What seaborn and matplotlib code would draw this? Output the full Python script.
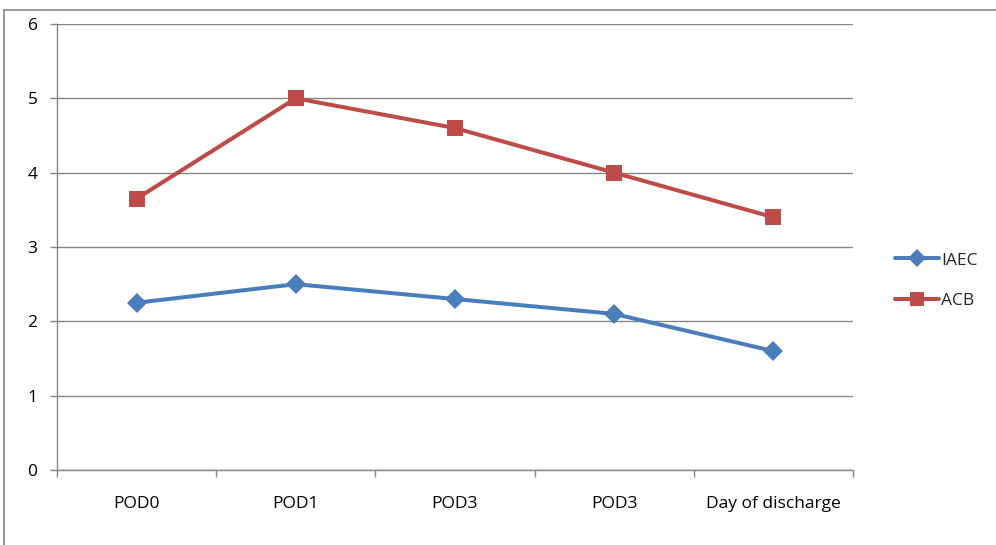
import matplotlib
matplotlib.use("Agg")
import matplotlib.pyplot as plt
import seaborn as sns
import pandas as pd
from matplotlib.lines import Line2D

categories = ["POD0", "POD1", "POD3", "POD3", "Day of discharge"]
iaec = [2.25, 2.5, 2.3, 2.1, 1.6]
acb = [3.65, 5.0, 4.6, 4.0, 3.4]
series_names = ["IAEC", "ACB"]
y_ticks = [0, 1, 2, 3, 4, 5, 6]

colors = {"IAEC": "#4A7EBB", "ACB": "#BE4B48"}
markers = {"IAEC": "D", "ACB": "s"}
msizes = {"IAEC": 10.5, "ACB": 11.5}

sns.set_theme(style="white")
plt.rcParams["font.family"] = ["Open Sans", "DejaVu Sans"]

positions = list(range(len(categories)))
df = pd.DataFrame({
    "pos": positions * 2,
    "value": iaec + acb,
    "series": ["IAEC"] * len(iaec) + ["ACB"] * len(acb),
})

fig = plt.figure(figsize=(9.96, 5.45), dpi=100)
ax = fig.add_axes([0.0572, 0.1376, 0.7992, 0.8184])

for name in series_names:
    sub = df[df["series"] == name]
    sns.lineplot(data=sub, x="pos", y="value", ax=ax, color=colors[name],
                 linewidth=2.9, marker=markers[name], markersize=msizes[name],
                 markeredgewidth=0, legend=False, zorder=3)

ax.set_xlim(-0.5, len(categories) - 0.5)
ax.set_ylim(0, 6)
ax.set_yticks(y_ticks)
ax.set_yticklabels([str(t) for t in y_ticks])
ax.set_xticks(positions)
ax.set_xticklabels(categories)
ax.set_xticks([p - 0.5 for p in positions] + [len(categories) - 0.5], minor=True)
ax.set_xlabel("")
ax.set_ylabel("")

label_size = 12.5
grid_color = "#868686"
ax.yaxis.grid(True, color=grid_color, linewidth=1.0, zorder=0)
ax.xaxis.grid(False)
for side in ["top", "right"]:
    ax.spines[side].set_visible(False)
for side in ["left", "bottom"]:
    ax.spines[side].set_color(grid_color)
    ax.spines[side].set_linewidth(1.0)

ax.tick_params(axis="y", which="major", left=True, length=5, width=1,
               color=grid_color, labelsize=label_size, labelcolor="#000000", pad=9)
ax.tick_params(axis="x", which="major", bottom=False, labelsize=label_size,
               labelcolor="#000000", pad=13)
ax.tick_params(axis="x", which="minor", bottom=True, length=5, width=1,
               color=grid_color)

handles = [Line2D([0], [0], color=colors[n], linewidth=2.9, marker=markers[n],
                  markersize=msizes[n] - 1.5, markeredgewidth=0) for n in series_names]
fig.legend(handles, series_names, loc="center left",
           bbox_to_anchor=(0.883, 0.485), frameon=False, fontsize=label_size,
           handlelength=2.55, handletextpad=0.1, labelspacing=1.4)

# outer chart frame (left and top edges)
fig.add_artist(Line2D([0.0045, 0.0045], [0, 0.982], transform=fig.transFigure,
                      color="#868686", linewidth=1.2))
fig.add_artist(Line2D([0.0045, 1.0], [0.982, 0.982], transform=fig.transFigure,
                      color="#868686", linewidth=1.2))

fig.savefig("out.png", dpi=100, facecolor="white")
